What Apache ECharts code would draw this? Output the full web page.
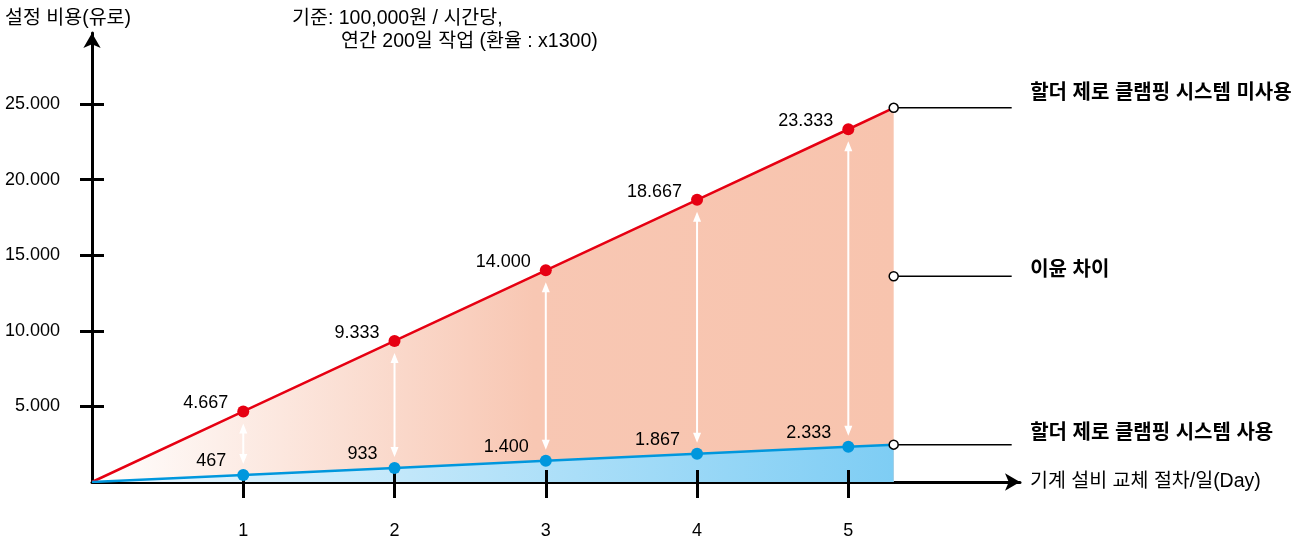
<!DOCTYPE html>
<html>
<head>
<meta charset="utf-8">
<style>
  html, body { margin: 0; padding: 0; background: #fff; }
  #chart { width: 1304px; height: 542px; }
</style>
<script src="https://cdn.jsdelivr.net/npm/echarts@6/dist/echarts.min.js"></script>
</head>
<body>
<div id="chart"></div>
<script>
// ---- data ----
const days = [0, 1, 2, 3, 4, 5, 5.3];
const costWithout = [0, 4667, 9333, 14000, 18667, 23333, 24750];
const costWith = [0, 467, 933, 1400, 1867, 2333, 2470];
const xTickValues = [1, 2, 3, 4, 5];
const yTickValues = [5000, 10000, 15000, 20000, 25000];
const seriesNames = ['할더 제로 클램핑 시스템 미사용', '이윤 차이', '할더 제로 클램핑 시스템 사용'];
const yAxisTitle = '설정 비용(유로)';
const xAxisTitle = '기계 설비 교체 절차/일(Day)';
const noteLine1 = '기준: 100,000원 / 시간당,';
const noteLine2 = '연간 200일 작업 (환율 : x1300)';
const annotationEndX = 6.08;

const FONT = '"Liberation Sans", Arial, "Noto Sans CJK KR", sans-serif';
const KFS = 19.5; // size for Korean text

function fmt(v) {
  return String(Math.round(v)).replace(/\B(?=(\d{3})+(?!\d))/g, '.');
}

function pointData(values) {
  return days.map((d, i) => {
    const isMark = xTickValues.indexOf(d) >= 0;
    return { value: [d, values[i]], symbol: isMark ? 'circle' : 'none', label: { show: isMark } };
  });
}

const lastIdx = days.length - 1;
const endX = days[lastIdx];
const topEnd = costWithout[lastIdx];
const botEnd = costWith[lastIdx];
const midEnd = (topEnd + botEnd) / 2;

function annotation(name, y, labelOffsetY) {
  return {
    type: 'line', name: name, z: 6, silent: true,
    lineStyle: { color: '#000', width: 1.5 },
    data: [
      { value: [endX, y], symbol: 'circle', symbolSize: 9,
        itemStyle: { color: '#fff', borderColor: '#000', borderWidth: 1.5 } },
      { value: [annotationEndX, y], symbol: 'circle', symbolSize: 1,
        itemStyle: { color: 'rgba(0,0,0,0)', borderWidth: 0 },
        label: { show: true, position: 'right', distance: 18, offset: [0, labelOffsetY],
                 formatter: name, fontSize: 20, fontWeight: 'bold', color: '#000', fontFamily: FONT } }
    ]
  };
}

const arrowData = xTickValues.map((x) => {
  const i = days.indexOf(x);
  return [x, costWithout[i], costWith[i]];
});

const chart = echarts.init(document.getElementById('chart'), null, { renderer: 'canvas' });

const option = {
  animation: false,
  backgroundColor: '#fff',
  textStyle: { fontFamily: FONT, color: '#000' },
  title: [
    { text: yAxisTitle, left: 5, top: 9, padding: 0, textStyle: { fontSize: KFS, fontWeight: 'normal', color: '#000', fontFamily: FONT } },
    { text: noteLine1, left: 292, top: 9, padding: 0, textStyle: { fontSize: KFS, fontWeight: 'normal', color: '#000', fontFamily: FONT } },
    { text: noteLine2, left: 341, top: 32, padding: 0, textStyle: { fontSize: KFS, fontWeight: 'normal', color: '#000', fontFamily: FONT } }
  ],
  grid: { left: 92, right: 284, top: 33, bottom: 60, containLabel: false, outerBoundsMode: 'none' },
  xAxis: [
    {
      type: 'value', min: 0, max: 6.135, interval: 1,
      name: xAxisTitle, nameLocation: 'end', nameGap: 10,
      nameTextStyle: { fontSize: KFS, color: '#000', fontFamily: FONT },
      axisLine: { show: true, symbol: ['none', 'arrow'], symbolSize: [13, 15], lineStyle: { color: '#000', width: 3 } },
      axisTick: { show: true, customValues: xTickValues, length: 16, lineStyle: { color: '#000', width: 3 } },
      axisLabel: { show: true, customValues: xTickValues, margin: 40, fontSize: 18, color: '#000', fontFamily: FONT },
      splitLine: { show: false }
    },
    {
      type: 'value', min: 0, max: 6.135, interval: 1, position: 'bottom', z: 3,
      axisLine: { show: false },
      axisTick: { show: true, inside: true, customValues: xTickValues, length: 12, lineStyle: { color: '#000', width: 3 } },
      axisLabel: { show: false },
      splitLine: { show: false }
    }
  ],
  yAxis: [
    {
      type: 'value', min: 0, max: 29700, interval: 5000,
      axisLine: { show: true, symbol: ['none', 'arrow'], symbolSize: [13, 15], lineStyle: { color: '#000', width: 3 } },
      axisTick: { show: true, customValues: yTickValues, length: 12, lineStyle: { color: '#000', width: 3 } },
      axisLabel: { show: true, customValues: yTickValues, margin: 32, fontSize: 18, color: '#000', fontFamily: FONT, formatter: (v) => fmt(v) },
      splitLine: { show: false }
    },
    {
      type: 'value', min: 0, max: 29700, interval: 5000, position: 'left', z: 3,
      axisLine: { show: false },
      axisTick: { show: true, inside: true, customValues: yTickValues, length: 12, lineStyle: { color: '#000', width: 3 } },
      axisLabel: { show: false },
      splitLine: { show: false }
    }
  ],
  series: [
    {
      type: 'line', name: 'areaTop', z: 1, silent: true, symbol: 'none',
      data: days.map((d, i) => [d, costWithout[i]]),
      lineStyle: { opacity: 0 },
      areaStyle: { opacity: 1, color: new echarts.graphic.LinearGradient(0, 0, 1, 0, [
        { offset: 0, color: '#FFFFFF' }, { offset: 0.55, color: '#F8C7B3' }, { offset: 1, color: '#F8C4AE' }
      ]) }
    },
    {
      type: 'line', name: 'areaBottom', z: 1, silent: true, symbol: 'none',
      data: days.map((d, i) => [d, costWith[i]]),
      lineStyle: { opacity: 0 },
      areaStyle: { opacity: 1, color: new echarts.graphic.LinearGradient(0, 0, 1, 0, [
        { offset: 0, color: '#EDF8FE' }, { offset: 1, color: '#7ECDF4' }
      ]) }
    },
    {
      type: 'custom', name: 'arrows', z: 2, silent: true,
      encode: { x: 0, y: [1, 2] },
      data: arrowData,
      renderItem: function (params, api) {
        const top = api.coord([api.value(0), api.value(1)]);
        const bot = api.coord([api.value(0), api.value(2)]);
        const x = top[0];
        const y1 = top[1] + 12, y2 = bot[1] - 11;
        const ah = 10, aw = 4;
        const st = { fill: '#fff' };
        return {
          type: 'group',
          children: [
            { type: 'line', shape: { x1: x, y1: y1 + ah - 1, x2: x, y2: y2 - ah + 1 }, style: { stroke: '#fff', lineWidth: 2 } },
            { type: 'polygon', shape: { points: [[x, y1], [x - aw, y1 + ah], [x + aw, y1 + ah]] }, style: st },
            { type: 'polygon', shape: { points: [[x, y2], [x - aw, y2 - ah], [x + aw, y2 - ah]] }, style: st }
          ]
        };
      }
    },
    {
      type: 'line', name: seriesNames[0], z: 4, silent: true,
      data: pointData(costWithout),
      symbolSize: 12,
      lineStyle: { color: '#E60012', width: 2.5 },
      itemStyle: { color: '#E60012' },
      label: { position: 'left', distance: 9, offset: [0, -8], fontSize: 18, color: '#000', fontFamily: FONT,
               formatter: (p) => fmt(p.value[1]) }
    },
    {
      type: 'line', name: seriesNames[2], z: 4, silent: true,
      data: pointData(costWith),
      symbolSize: 12,
      lineStyle: { color: '#0097DD', width: 2.5 },
      itemStyle: { color: '#0097DD' },
      label: { position: 'left', distance: 11, offset: [0, -14], fontSize: 18, color: '#000', fontFamily: FONT,
               formatter: (p) => fmt(p.value[1]) }
    },
    annotation(seriesNames[0], topEnd, -14),
    annotation(seriesNames[1], midEnd, -6),
    annotation(seriesNames[2], botEnd, -11)
  ]
};

chart.setOption(option);
</script>
</body>
</html>
